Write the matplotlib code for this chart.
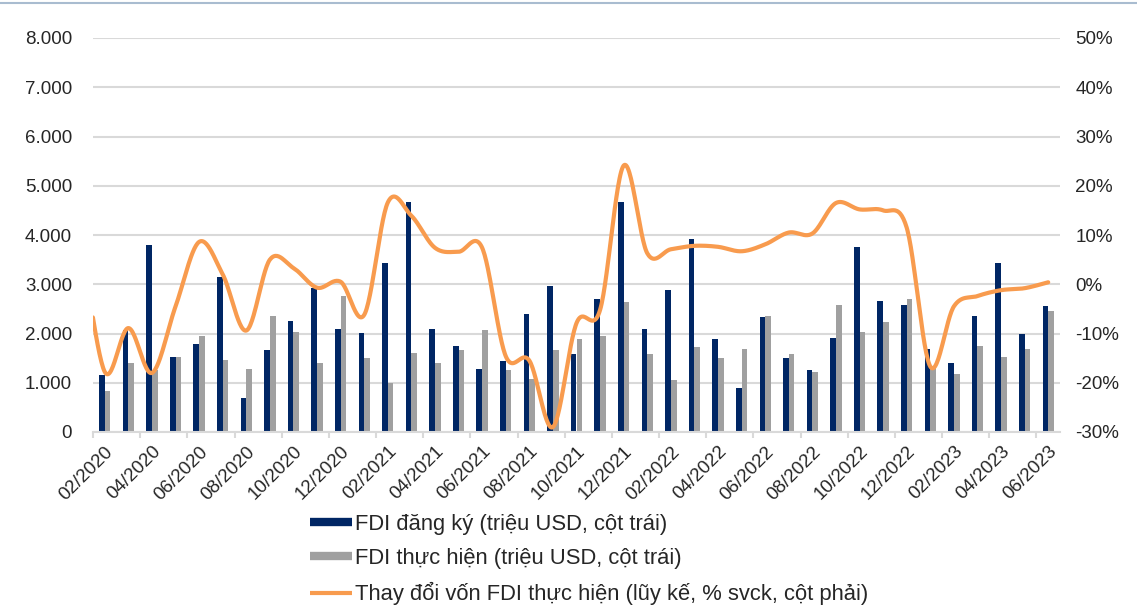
import matplotlib
matplotlib.use("Agg")
import matplotlib.pyplot as plt
from matplotlib.lines import Line2D
from matplotlib.ticker import FuncFormatter, FixedLocator
import numpy as np

plt.rcParams['font.family'] = ['Liberation Sans', 'DejaVu Sans']

# months 02/2020 .. 06/2023
months = []
for yr in (2020, 2021, 2022, 2023):
    for m in range(1, 13):
        if (yr == 2020 and m < 2) or (yr == 2023 and m > 6):
            continue
        months.append('%02d/%d' % (m, yr))

# FDI dang ky (trieu USD)
registered = [1150, 2080, 3790, 1520, 1790, 3150, 700, 1660, 2260, 2920, 2100, 2010,
              3430, 4670, 2100, 1750, 1280, 1440, 2390, 2960, 1590, 2700, 4670, 2100,
              2890, 3910, 1880, 890, 2330, 1500, 1250, 1910, 3750, 2670, 2570, 1690,
              1400, 2360, 3430, 1980, 2550]
# FDI thuc hien (trieu USD)
disbursed = [840, 1400, 1250, 1520, 1940, 1470, 1280, 2360, 2040, 1400, 2770, 1500,
             1000, 1600, 1400, 1660, 2080, 1250, 1080, 1660, 1880, 1940, 2640, 1590,
             1050, 1720, 1500, 1690, 2360, 1590, 1210, 2570, 2030, 2230, 2700, 1350,
             1180, 1750, 1520, 1690, 2450]
# % change, cumulative yoy (first value = 01/2020, clipped at the left edge)
change_jan2020 = 9.0
change = [-17.8, -8.9, -18.0, -4.5, 8.6, 2.0, -9.4, 5.0, 3.3, -0.7, 0.5, -6.2,
          16.6, 13.9, 7.4, 6.6, 7.4, -14.6, -15.5, -29.0, -7.9, -5.2, 24.1, 6.3,
          7.1, 7.8, 7.6, 6.7, 8.1, 10.5, 10.3, 16.5, 15.2, 15.0, 11.5, -16.7,
          -4.5, -2.4, -1.2, -0.8, 0.4]

navy = '#002664'
grey = '#A0A0A0'
orange = '#F89B4E'
txt = '#262626'
gridc = '#D9D9D9'


def smooth(xs, ys, n=30):
    # bezier smoothing similar to office "smoothed line"
    xs = np.asarray(xs, float)
    ys = np.asarray(ys, float)
    px = np.concatenate([[xs[0]], xs, [xs[-1]]])
    py = np.concatenate([[ys[0]], ys, [ys[-1]]])
    outx, outy = [], []
    t = np.linspace(0, 1, n)
    for i in range(1, len(px) - 2):
        p0 = np.array([px[i], py[i]])
        p3 = np.array([px[i + 1], py[i + 1]])
        c1 = p0 + (np.array([px[i + 1], py[i + 1]]) - np.array([px[i - 1], py[i - 1]])) / 6.0
        c2 = p3 - (np.array([px[i + 2], py[i + 2]]) - np.array([px[i], py[i]])) / 6.0
        b = ((1 - t) ** 3)[:, None] * p0 + (3 * (1 - t) ** 2 * t)[:, None] * c1 \
            + (3 * (1 - t) * t ** 2)[:, None] * c2 + (t ** 3)[:, None] * p3
        outx.extend(b[:, 0])
        outy.extend(b[:, 1])
    return outx, outy


fig = plt.figure(figsize=(11.37, 6.11), dpi=100)
ax = fig.add_axes([93 / 1137, 1 - 432 / 611, (1060 - 93) / 1137, (432 - 38) / 611])

x = np.arange(len(months))
w = 0.24
ax.bar(x - 0.12, registered, width=w, color=navy, zorder=2)
ax.bar(x + 0.12, disbursed, width=w, color=grey, zorder=2)

ax.set_xlim(-0.5, len(months) - 0.5)
ax.set_ylim(0, 8000)
ax.set_yticks(np.arange(0, 8001, 1000))
ax.yaxis.set_major_formatter(FuncFormatter(lambda v, p: '{:,.0f}'.format(v).replace(',', '.')))
ax.grid(axis='y', color=gridc, linewidth=1.5, zorder=0)
ax.set_axisbelow(True)

for s in ('top', 'right', 'left'):
    ax.spines[s].set_visible(False)
ax.spines['bottom'].set_color(gridc)
ax.spines['bottom'].set_linewidth(1.5)

# tick marks between categories, labels every 2 months
ax.xaxis.set_major_locator(FixedLocator(np.arange(-0.5, len(months), 2)))
ax.xaxis.set_minor_locator(FixedLocator(x[::2]))
ax.set_xticklabels([])
ax.set_xticklabels(months[::2], minor=True, rotation=45, ha='right',
                   rotation_mode='anchor', fontsize=13.5, color=txt)
ax.tick_params(axis='x', which='major', length=4, width=1.5, color=gridc)
ax.tick_params(axis='x', which='minor', length=0, pad=8)
ax.tick_params(axis='y', length=0, pad=15, labelsize=13.5, labelcolor=txt)

ax2 = ax.twinx()
ax2.set_ylim(-30, 50)
ax2.set_yticks(np.arange(-30, 51, 10))
ax2.yaxis.set_major_formatter(FuncFormatter(lambda v, p: '%d%%' % v))
ax2.tick_params(axis='y', length=0, pad=11, labelsize=13.5, labelcolor=txt)
for s in ax2.spines.values():
    s.set_visible(False)

lx, ly = smooth(np.arange(-1, len(months)), [change_jan2020] + change)
ax2.plot(lx, ly, color=orange, linewidth=3, solid_capstyle='round', zorder=3)
ax2.set_xlim(-0.5, len(months) - 0.5)

handles = [Line2D([], [], color=navy, linewidth=6, solid_capstyle='butt'),
           Line2D([], [], color=grey, linewidth=6, solid_capstyle='butt'),
           Line2D([], [], color=orange, linewidth=3, solid_capstyle='butt')]
labels = ['FDI đăng ký (triệu USD, cột trái)',
          'FDI thực hiện (triệu USD, cột trái)',
          'Thay đổi vốn FDI thực hiện (lũy kế, % svck, cột phải)']
fig.legend(handles, labels, loc='upper left', bbox_to_anchor=(310 / 1137, 1 - 514 / 611),
           frameon=False, fontsize=15.8, labelcolor=txt, borderpad=0, borderaxespad=0,
           handlelength=1.9, handletextpad=0.14, labelspacing=0.6)

# thin line at the very top of the picture
fig.add_artist(Line2D([0, 1], [1 - 3 / 611, 1 - 3 / 611], color='#A9BCD0', linewidth=1.5))

fig.savefig('out.png', dpi=100)
